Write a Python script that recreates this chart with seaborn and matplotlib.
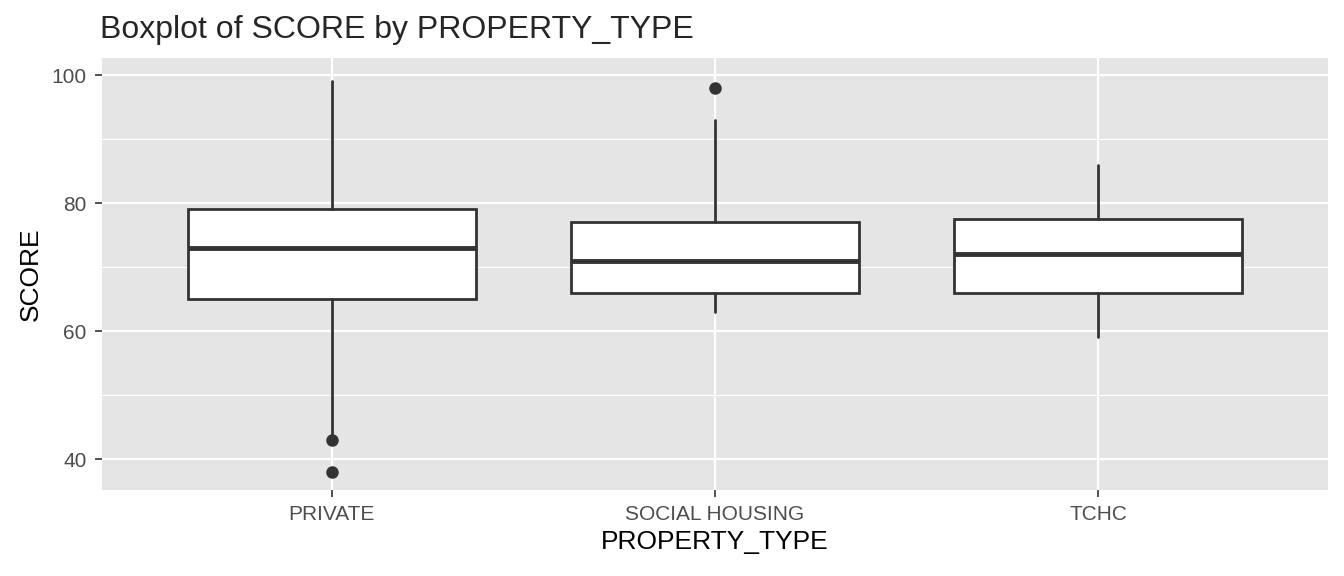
import matplotlib
matplotlib.use("Agg")
import matplotlib.pyplot as plt
import seaborn as sns

categories = ["PRIVATE", "SOCIAL HOUSING", "TCHC"]
whislo = [43, 63, 59]
q1 = [65, 66, 66]
med = [73, 71, 72]
q3 = [79, 77, 77.5]
whishi = [99, 93, 86]
fliers = [[43, 38], [98], []]

sns.set_theme(style="darkgrid", rc={"axes.facecolor": "#E5E5E5", "grid.color": "white"})
plt.rcParams['font.family'] = ['Liberation Sans', 'DejaVu Sans']

fig = plt.figure(figsize=(13.44, 5.76), dpi=100)
ax = fig.add_axes([102/1344, 1-490/576, (1328-102)/1344, (490-58)/576])
stats = [dict(label=c, whislo=a, q1=b, med=m, q3=d, whishi=e, fliers=f)
         for c, a, b, m, d, e, f in zip(categories, whislo, q1, med, q3, whishi, fliers)]
ec = "#333333"
ax.bxp(stats, positions=range(len(categories)), widths=0.75, patch_artist=True,
       boxprops=dict(facecolor="white", edgecolor=ec, linewidth=2),
       medianprops=dict(color=ec, linewidth=3.5),
       whiskerprops=dict(color=ec, linewidth=2),
       capprops=dict(linewidth=0),
       flierprops=dict(marker="o", markerfacecolor=ec, markeredgecolor=ec, markersize=8))
ax.set_xlim(-0.6, 2.6)
ax.set_ylim(35.16, 102.66)
ax.set_yticks([40, 60, 80, 100])
ax.set_yticks([50, 70, 90], minor=True)
ax.grid(True, which="major", color="white", linewidth=1.6)
ax.grid(True, which="minor", color="white", linewidth=0.8)
ax.set_axisbelow(True)
for s in ax.spines.values():
    s.set_visible(False)
ax.tick_params(axis="both", colors="#4D4D4D", labelsize=15, length=5, width=1.2, direction="out",
               bottom=True, left=True, color="#333333", pad=6)
ax.tick_params(which="minor", length=0)
ax.set_xlabel("PROPERTY_TYPE", fontsize=19, color="black", labelpad=4)
ax.set_ylabel("SCORE", fontsize=19, color="black", labelpad=6)
fig.text(100/1344, 1-30/576, "Boxplot of SCORE by PROPERTY_TYPE", fontsize=23, va="center", ha="left")
fig.savefig("out.png", dpi=100)
